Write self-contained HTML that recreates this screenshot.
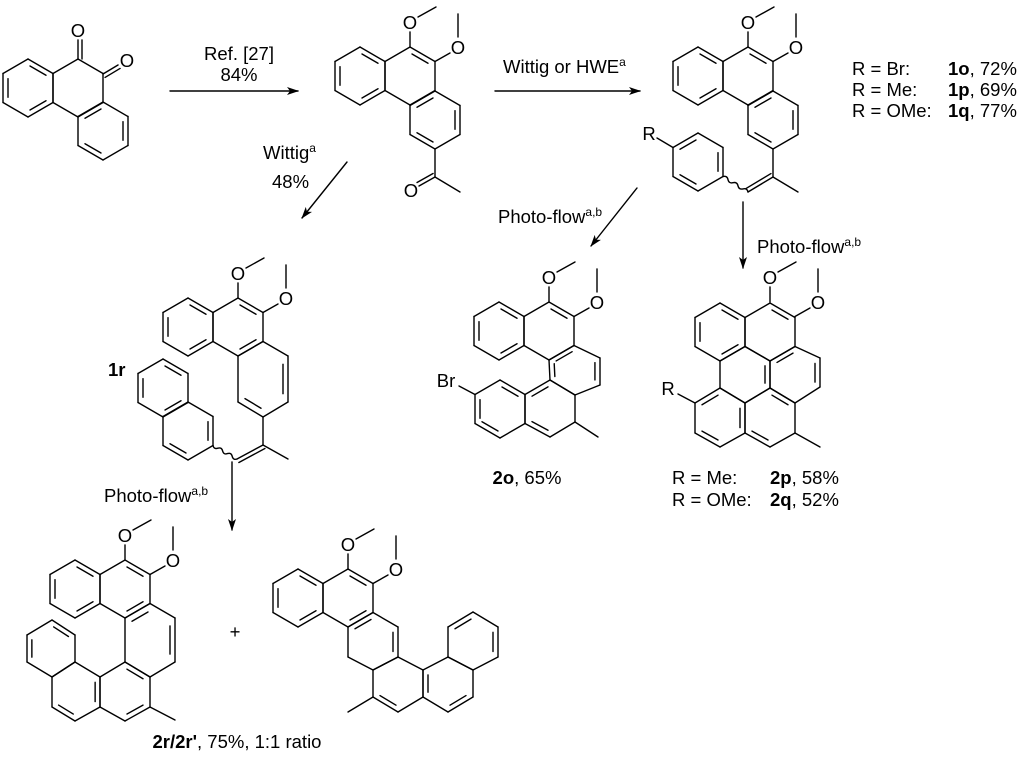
<!DOCTYPE html>
<html><head><meta charset="utf-8"><style>
html,body{margin:0;padding:0;background:#fff;}
svg{display:block;}
text{font-family:"Liberation Sans",Arial,sans-serif;font-size:18.5px;fill:#000;}
.b{font-weight:bold;}
</style></head><body>
<svg id="s" width="1024" height="758" viewBox="0 0 1024 758" xmlns="http://www.w3.org/2000/svg">
<defs><marker id="ah" markerWidth="12" markerHeight="8" refX="11" refY="4" orient="auto" markerUnits="userSpaceOnUse"><path d="M0,0 L12,4 L0,8 L3,4 Z" fill="#000"/></marker></defs>
<g id="g" stroke="#000" stroke-width="1.4" fill="none" stroke-linecap="round"></g>
<g id="t">
<text x="239" y="60" text-anchor="middle">Ref. [27]</text>
<text x="239" y="81" text-anchor="middle">84%</text>
<text x="503" y="73">Wittig or HWE<tspan font-size="12" dy="-7">a</tspan></text>
<text x="263" y="159">Wittig<tspan font-size="12" dy="-7">a</tspan></text>
<text x="272" y="188">48%</text>
<text x="852" y="75">R = Br:</text><text x="948" y="75"><tspan class="b">1o</tspan>, 72%</text>
<text x="852" y="96">R = Me:</text><text x="948" y="96"><tspan class="b">1p</tspan>, 69%</text>
<text x="852" y="117">R = OMe:</text><text x="948" y="117"><tspan class="b">1q</tspan>, 77%</text>
<text x="498" y="223">Photo-flow<tspan font-size="12" dy="-7">a,b</tspan></text>
<text x="757" y="253">Photo-flow<tspan font-size="12" dy="-7">a,b</tspan></text>
<text x="104" y="502">Photo-flow<tspan font-size="12" dy="-7">a,b</tspan></text>
<text x="108" y="376" class="b">1r</text>
<text x="527" y="484" text-anchor="middle"><tspan class="b">2o</tspan>, 65%</text>
<text x="672" y="484">R = Me:</text><text x="770" y="484"><tspan class="b">2p</tspan>, 58%</text>
<text x="672" y="506">R = OMe:</text><text x="770" y="506"><tspan class="b">2q</tspan>, 52%</text>
<text x="237" y="748" text-anchor="middle"><tspan class="b">2r/2r'</tspan>, 75%, 1:1 ratio</text>
<text x="235" y="638" text-anchor="middle">+</text>
</g>
</svg>
<script>
var g=document.getElementById('g'),T=document.getElementById('t'),NS='http://www.w3.org/2000/svg';
function L(a,b,c,d,m){var e=document.createElementNS(NS,'line');e.setAttribute('x1',a);e.setAttribute('y1',b);e.setAttribute('x2',c);e.setAttribute('y2',d);if(m)e.setAttribute('marker-end','url(#ah)');g.appendChild(e);}
function TX(x,y,s){var e=document.createElementNS(NS,'text');e.setAttribute('x',x);e.setAttribute('y',y+6);e.setAttribute('text-anchor','middle');e.textContent=s;T.appendChild(e);}
function hx(cx,cy){return [[cx,cy-29],[cx+25,cy-14.5],[cx+25,cy+14.5],[cx,cy+29],[cx-25,cy+14.5],[cx-25,cy-14.5]];}
function ring(p,d){var cx=0,cy=0;p.forEach(function(q){cx+=q[0];cy+=q[1];});cx/=6;cy/=6;
 for(var i=0;i<6;i++){var a=p[i],b=p[(i+1)%6];L(a[0],a[1],b[0],b[1]);}
 (d||[]).forEach(function(i){var a=p[i],b=p[(i+1)%6];
  function s(q){return [q[0]+(cx-q[0])*0.2,q[1]+(cy-q[1])*0.2];}
  var A=s(a),B=s(b),dx=B[0]-A[0],dy=B[1]-A[1];
  L(A[0]+dx*0.1,A[1]+dy*0.1,B[0]-dx*0.1,B[1]-dy*0.1);});}
function dbl(a,b,c,d){L(a,b,c,d);var dx=c-a,dy=d-b,l=Math.hypot(dx,dy),nx=-dy/l*4,ny=dx/l*4;L(a+nx,b+ny,c+nx,d+ny);}
function wavy(a,b,c,d){var n=5,dx=(c-a)/n,dy=(d-b)/n,l=Math.hypot(dx,dy),nx=-dy/l*3,ny=dx/l*3,s='M'+a+','+b;
 for(var i=0;i<n;i++){var k=i%2?-1:1;s+=' Q'+(a+dx*(i+0.5)+nx*k)+','+(b+dy*(i+0.5)+ny*k)+' '+(a+dx*(i+1))+','+(b+dy*(i+1));}
 var e=document.createElementNS(NS,'path');e.setAttribute('d',s);g.appendChild(e);}
function ome(x,y){L(x,y,x,y-15);TX(x,y-24,'O');L(x+8,y-30,x+26,y-40);
 L(x+25,y+14.5,x+40,y+6);TX(x+48,y+1,'O');L(x+48,y-10,x+48,y-33);}
// arrows
L(170,91,298,91,1);L(495,91,640,91,1);L(347,162,302,218,1);L(637,188,591,246,1);L(743,202,743,268,1);L(232,462,232,530,1);
// M1
ring(hx(28,88),[0,2,4]);ring(hx(78,88),[]);ring(hx(103,131),[1,3,5]);
dbl(78,59,78,40);TX(78,31,'O');dbl(103,74,118,65);TX(127,61,'O');
// M2
ring(hx(360,76),[0,2,4]);ring(hx(410,76),[0]);ring(hx(435,120),[1,3,5]);ome(410,47);
L(435,149,435,177);L(435,177,460,192);dbl(435,177,419,186);TX(411,191,'O');
// M3
ring(hx(698,76),[0,2,4]);ring(hx(748,76),[0]);ring(hx(773,120),[1,3,5]);ome(748,47);
L(773,149,773,177);L(773,177,798,192);dbl(773,177,748,192);wavy(748,192,723,176.5);
ring(hx(698,162),[1,3,5]);L(673,147.5,657,138);TX(649,134,'R');
// 1r
ring(hx(188,327),[0,2,4]);ring(hx(238,327),[0,2]);ome(238,298);
ring([[263,341.5],[288,356],[288,402],[263,417],[238,402],[238,356]],[1,3]);
ring(hx(163,388),[0,2,4]);ring(hx(188,431),[1,3]);
wavy(213,445.5,237,459);dbl(237,459,263,445);L(263,445,263,417);L(263,445,288,459);
// 2o
ring(hx(499,331),[0,2,4]);ring(hx(549,331),[0]);ome(549,302);
ring([[549,360],[574,345.5],[600,358],[600,385],[575,395],[550,380]],[0,2,5]);
ring([[550,380],[575,395],[575,422],[550,437],[525,423.5],[525,394.5]],[3,5]);
ring(hx(500,409),[0,3,4]);L(575,422,598,437);L(475,394.5,459,386);TX(446,381,'Br');
// 2p
ring(hx(720,332),[0,2,4]);ring(hx(770,332),[0]);ome(770,302);
ring([[795,346.5],[820,358],[820,387],[795,403],[770,388],[770,361]],[1,5]);
ring([[720,361],[745,346.5],[770,361],[770,388],[745,403],[720,388]],[2]);
ring([[720,388],[745,403],[745,433],[720,447],[695,433],[695,403]],[1,3,5]);
ring([[770,388],[795,403],[795,433],[770,447],[745,433],[745,403]],[0,3]);
L(695,403,678,394);TX(668,389,'R');L(795,433,820,447);
// 2r
ring(hx(75,589),[0,2,4]);ring(hx(125,589),[0,2]);ome(125,560);
ring([[150,603.5],[175,618],[175,662],[150,677],[125,662],[125,618]],[1,5]);
ring([[125,662],[150,677],[150,707],[125,721],[100,707],[100,677]],[0,2]);
ring([[100,677],[100,707],[75,721],[52,707],[52,677],[75,662]],[0,2]);
ring([[75,662],[52,677],[27,662],[27,635],[52,620],[75,635]],[2,4]);
L(150,707,175,720);
// 2r'
ring(hx(298,598),[0,2,4]);ring(hx(348,598),[0,2]);ome(348,569);
ring([[373,612.5],[398,627],[398,657],[373,670],[348,657],[348,627]],[1,5]);
ring([[373,670],[398,657],[423,670],[423,697],[398,712],[373,697]],[4]);
ring([[423,670],[448,657],[473,670],[473,697],[448,712],[423,697]],[3,5]);
ring([[448,657],[448,627],[473,612],[498,627],[498,657],[473,670]],[1,3]);
L(373,697,348,712);
</script>
</body></html>
